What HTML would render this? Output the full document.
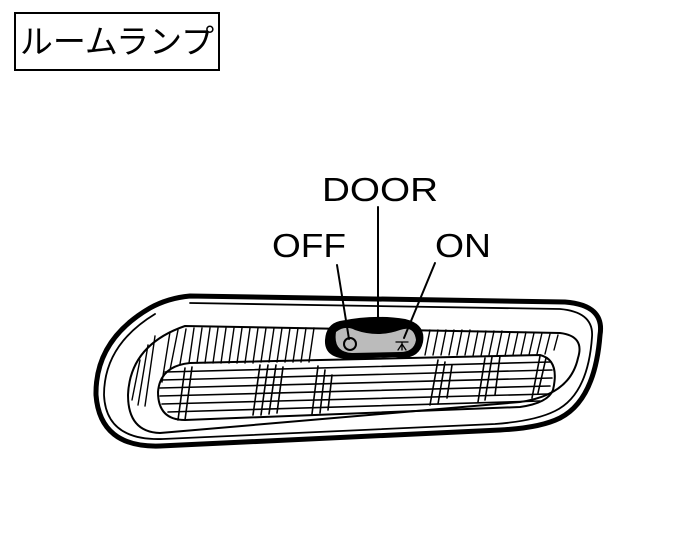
<!DOCTYPE html>
<html><head><meta charset="utf-8"><style>
html,body{margin:0;padding:0;background:#fff;}
body{width:686px;height:556px;overflow:hidden;position:relative;}
.box{position:absolute;left:14px;top:12px;width:202px;height:55px;border:2px solid #000;box-sizing:content-box;
font-family:"Liberation Sans","Noto Sans CJK JP",sans-serif;font-size:33px;line-height:55px;text-align:center;}
svg{position:absolute;left:0;top:0;}
</style></head><body>
<div class="box">ルームランプ</div>
<svg width="686" height="556" viewBox="0 0 686 556" font-family="Liberation Sans, sans-serif">
<text x="380" y="201" font-size="33" text-anchor="middle" textLength="116" lengthAdjust="spacingAndGlyphs">DOOR</text>
<text x="309" y="257" font-size="33" text-anchor="middle" textLength="74" lengthAdjust="spacingAndGlyphs">OFF</text>
<text x="463" y="257" font-size="33" text-anchor="middle" textLength="56" lengthAdjust="spacingAndGlyphs">ON</text>
<g fill="none" stroke="#000" stroke-linecap="round">
<path d="M190 296 L565 302 Q605 305 600 335 Q595 400 560 418 Q540 428 500 430 L160 446 Q100 448 96 395 Q95 340 150 308 Q168 298 190 296 Z" stroke-width="5"/>
<path d="M190 303 L560 309 Q594 312 592 337 Q588 395 555 411 Q535 421 495 424 L163 439 Q106 441 104 395 Q104 345 155 314" stroke-width="1.8"/>
<path d="M185 326 L560 333 Q585 336 578 358 Q570 395 520 402 L160 433 Q128 432 128 395 Q130 345 185 326 Z" stroke-width="2"/>
<path d="M190 363 L540 355 Q560 360 553 390 Q548 403 520 407 L185 420 Q158 420 158 392 Q160 366 190 363 Z" stroke-width="2"/>
<g stroke-width="1.6">
<line x1="165" y1="372" x2="550" y2="362"/>
<line x1="162" y1="380" x2="552" y2="370"/>
<line x1="160" y1="388" x2="552" y2="378"/>
<line x1="160" y1="396" x2="550" y2="386"/>
<line x1="162" y1="404" x2="548" y2="394"/>
<line x1="168" y1="412" x2="540" y2="401"/>
<line x1="185" y1="368" x2="178" y2="420"/><line x1="192" y1="367" x2="185" y2="420"/>
<line x1="260" y1="365" x2="253" y2="415"/><line x1="268" y1="365" x2="261" y2="415"/><line x1="276" y1="365" x2="269" y2="414"/><line x1="283" y1="367" x2="277" y2="413"/>
<line x1="318" y1="366" x2="312" y2="414"/><line x1="325" y1="370" x2="320" y2="413"/><line x1="332" y1="375" x2="328" y2="410"/>
<line x1="438" y1="360" x2="430" y2="405"/><line x1="445" y1="362" x2="438" y2="404"/><line x1="452" y1="365" x2="447" y2="398"/>
<line x1="485" y1="358" x2="478" y2="402"/><line x1="492" y1="357" x2="485" y2="400"/><line x1="500" y1="356" x2="495" y2="395"/>
<line x1="540" y1="356" x2="532" y2="398"/><line x1="546" y1="358" x2="538" y2="393"/>
</g>
<g stroke-width="1.4">
<path d="M170 332 l-8 50 M178 330 l-8 40 M186 329 l-6 35 M194 328 l-5 35 M202 328 l-5 35 M210 328 l-5 35 M218 328 l-5 35 M226 328 l-5 35 M234 328 l-5 35 M242 328 l-5 35 M250 328 l-5 35 M258 328 l-5 35 M266 328 l-5 34 M274 328 l-5 34 M282 328 l-5 34 M290 328 l-5 34 M298 328 l-5 34 M306 328 l-5 34 M314 328 l-5 34"/>
<path d="M430 330 l-5 25 M438 330 l-5 25 M446 330 l-5 25 M454 330 l-5 25 M462 330 l-5 25 M470 330 l-5 25 M478 331 l-5 25 M486 331 l-5 25 M494 331 l-5 24 M502 331 l-5 24 M510 332 l-5 24 M518 332 l-5 23 M526 332 l-5 23 M534 333 l-5 22 M542 333 l-5 21 M550 334 l-5 20 M558 335 l-4 15"/>
<path d="M140 360 l-8 40 M148 345 l-10 60 M155 336 l-10 70"/>
</g>
<path d="M340 322 Q375 315 405 320 Q425 325 422 342 Q418 360 395 356 L350 358 Q325 358 326 340 Q327 325 340 322 Z" fill="#000" stroke-width="2"/>
<path d="M336 332 Q345 325 355 330 Q378 338 400 330 Q414 325 416 340 Q414 352 400 352 L352 353 Q333 352 336 332 Z" fill="#bbb" stroke="none"/>
<circle cx="350" cy="344" r="6" stroke-width="2"/>
<line x1="337" y1="265" x2="349" y2="339" stroke-width="2"/>
<line x1="378" y1="207" x2="378" y2="330" stroke-width="2"/>
<line x1="435" y1="263" x2="404" y2="338" stroke-width="2"/>
<path d="M396 342 h12 M402 342 v8 M398 350 l4 -6 l4 6" stroke-width="1.3"/>
</g>
</svg>
</body></html>
